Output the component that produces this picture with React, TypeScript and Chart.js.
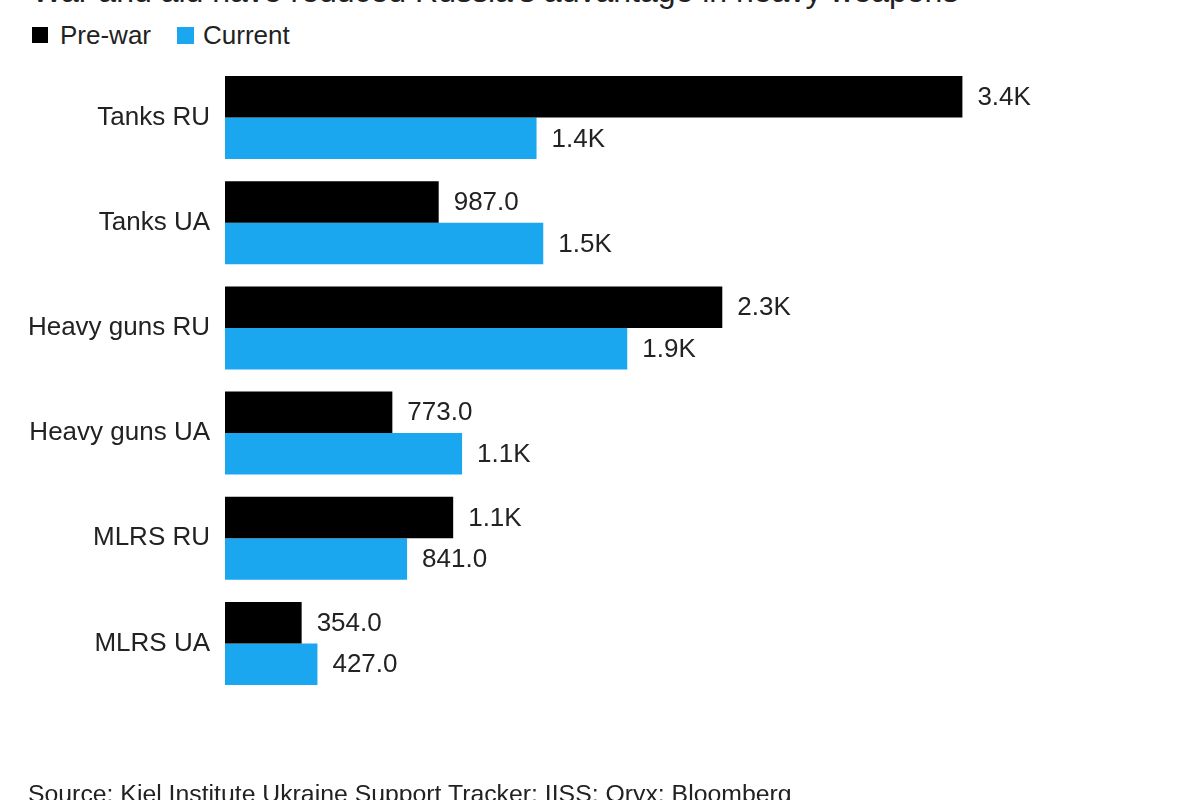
import React, { useEffect, useRef } from "react";
import { Chart, registerables } from "chart.js";

Chart.register(...registerables);

const categories = ["Tanks RU", "Tanks UA", "Heavy guns RU", "Heavy guns UA", "MLRS RU", "MLRS UA"];
const preWar = [3406, 987, 2297, 773, 1054, 354];
const current = [1439, 1470, 1858, 1095, 841, 427];
const seriesNames = ["Pre-war", "Current"];
const seriesColors = ["#000000", "#1AA7F0"];

const FONT = "'Liberation Sans', Arial, Helvetica, sans-serif";

function fmt(v: number): string {
  return v >= 1000 ? (v / 1000).toFixed(1) + "K" : v.toFixed(1);
}

const valueLabels = {
  id: "valueLabels",
  afterDatasetsDraw(chart: any) {
    const ctx = chart.ctx;
    ctx.save();
    ctx.font = `26px ${FONT}`;
    ctx.fillStyle = "#222222";
    ctx.textAlign = "left";
    ctx.textBaseline = "middle";
    chart.data.datasets.forEach((ds: any, di: number) => {
      const meta = chart.getDatasetMeta(di);
      meta.data.forEach((el: any, i: number) => {
        ctx.fillText(fmt(ds.data[i]), el.x + 15, el.y + 1);
      });
    });
    ctx.restore();
  },
};

export default function App() {
  const ref = useRef<HTMLCanvasElement>(null);
  useEffect(() => {
    if (!ref.current) return;
    const chart = new Chart(ref.current, {
      type: "bar",
      data: {
        labels: categories,
        datasets: [
          { label: seriesNames[0], data: preWar, backgroundColor: seriesColors[0], borderWidth: 0 },
          { label: seriesNames[1], data: current, backgroundColor: seriesColors[1], borderWidth: 0 },
        ],
      },
      options: {
        indexAxis: "y",
        animation: false,
        responsive: false,
        maintainAspectRatio: false,
        layout: { padding: { top: 65, bottom: 104, left: 0, right: 109 } },
        datasets: { bar: { categoryPercentage: 0.79, barPercentage: 1.0 } },
        plugins: { legend: { display: false }, tooltip: { enabled: false }, title: { display: false } },
        scales: {
          x: { display: false, min: 0, max: 4000 },
          y: {
            grid: { display: false, drawTicks: false },
            border: { display: false },
            ticks: { padding: 15, color: "#222222", font: { family: FONT, size: 26 } },
            afterFit(scale: any) {
              scale.width = 225;
            },
          },
        },
      },
      plugins: [valueLabels],
    } as any);
    return () => chart.destroy();
  }, []);

  return (
    <div style={{ position: "absolute", left: 0, top: 0, width: 1200, height: 800, overflow: "hidden", background: "#fff", fontFamily: FONT }}>
      <div style={{ position: "absolute", left: 32, top: -25, fontSize: 32, lineHeight: "32px", color: "#222", whiteSpace: "nowrap" }}>
        War and aid have reduced Russia's advantage in heavy weapons
      </div>
      <div style={{ position: "absolute", left: 32, top: 21, height: 28, display: "flex", alignItems: "center", fontSize: 26, color: "#222", whiteSpace: "nowrap" }}>
        <span style={{ display: "inline-block", width: 16, height: 16, background: seriesColors[0], marginRight: 12 }} />
        <span style={{ marginRight: 26 }}>{seriesNames[0]}</span>
        <span style={{ display: "inline-block", width: 17, height: 17, background: seriesColors[1], marginRight: 9 }} />
        <span>{seriesNames[1]}</span>
      </div>
      <canvas ref={ref} width={1200} height={800} style={{ position: "absolute", left: 0, top: 0, width: 1200, height: 800 }} />
      <div style={{ position: "absolute", left: 28, top: 782, fontSize: 24.8, lineHeight: "24.8px", color: "#222", whiteSpace: "nowrap" }}>
        Source: Kiel Institute Ukraine Support Tracker; IISS; Oryx; Bloomberg
      </div>
    </div>
  );
}
